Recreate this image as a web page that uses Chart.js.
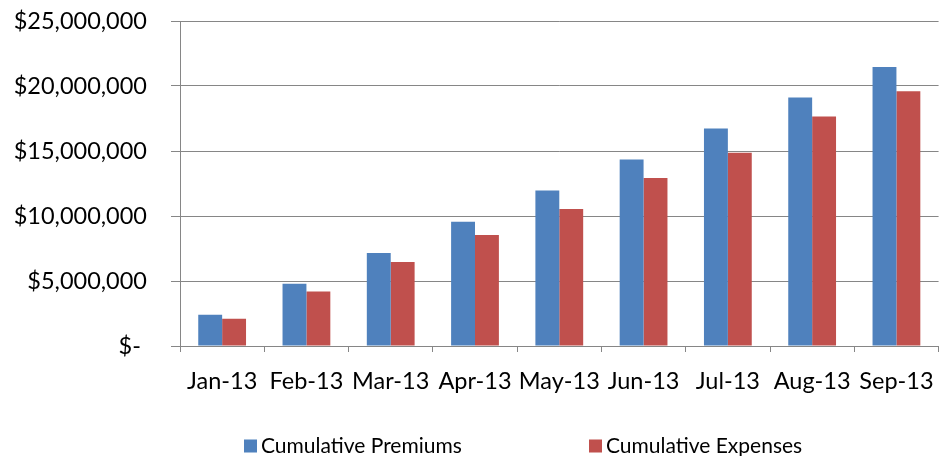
<!DOCTYPE html>
<html>
<head>
<meta charset="utf-8">
<script src="https://cdn.jsdelivr.net/npm/chart.js@4/dist/chart.umd.min.js"></script>
<style>
	html, body { margin: 0; padding: 0; background: #fff; }
	#chart { display: block; }
</style>
</head>
<body>
<canvas id="chart" width="949" height="456"></canvas>
<script>
var months = ['Jan-13', 'Feb-13', 'Mar-13', 'Apr-13', 'May-13', 'Jun-13', 'Jul-13', 'Aug-13', 'Sep-13'];
var premiums = [2400000, 4780000, 7160000, 9560000, 11970000, 14350000, 16730000, 19110000, 21470000];
var expenses = [2090000, 4190000, 6470000, 8540000, 10540000, 12920000, 14860000, 17650000, 19600000];
var seriesNames = ['Cumulative Premiums', 'Cumulative Expenses'];
var seriesColors = ['#4F81BD', '#C0504D'];

var axisGrey = '#868686';
var fontFamily = 'Lato, "Open Sans", sans-serif';

function money(value){
	if(value === 0) return '$- ';
	return '$' + value.toLocaleString('en-US');
}

// excel style legend: items sit in equal slots along the bottom
var slotLegend = {
	id: 'slotLegend',
	afterDraw: function(chart, args, opts){
		var ctx = chart.ctx;

		ctx.save();
		ctx.font = opts.fontSize + 'px ' + fontFamily;
		ctx.textBaseline = 'middle';
		ctx.textAlign = 'left';

		chart.data.datasets.forEach(function(ds, i){
			var x = opts.left + i * opts.slot;

			ctx.fillStyle = ds.backgroundColor;
			ctx.fillRect(x, opts.y - opts.box / 2, opts.box, opts.box);

			ctx.fillStyle = '#000';
			ctx.fillText(ds.label, x + opts.box + 4, opts.y);
		});

		ctx.restore();
	}
};

var chart = new Chart(document.getElementById('chart').getContext('2d'), {
	type: 'bar',
	data: {
		labels: months,
		datasets: [
			{ label: seriesNames[0], data: premiums, backgroundColor: seriesColors[0] },
			{ label: seriesNames[1], data: expenses, backgroundColor: seriesColors[1] }
		]
	},
	options: {
		responsive: false,
		animation: false,
		devicePixelRatio: 1,
		layout: { padding: { top: 21, right: 8, left: 0, bottom: 50 } },
		datasets: {
			bar: { categoryPercentage: 0.567, barPercentage: 1 }
		},
		plugins: {
			legend: { display: false },
			tooltip: { enabled: false },
			slotLegend: { left: 244, slot: 345, y: 446, box: 13, fontSize: 21 }
		},
		scales: {
			x: {
				offset: true,
				grid: {
					offset: true,
					drawOnChartArea: false,
					drawTicks: true,
					tickLength: 6,
					color: axisGrey
				},
				border: { color: axisGrey, width: 1 },
				ticks: {
					color: '#000',
					padding: 15,
					maxRotation: 0,
					autoSkip: false,
					font: { family: fontFamily, size: 23.5 }
				},
				afterFit: function(scale){ scale.height = 60; }
			},
			y: {
				min: 0,
				max: 25000000,
				grid: {
					color: axisGrey,
					tickLength: 9,
					drawTicks: true
				},
				border: { color: axisGrey, width: 1 },
				ticks: {
					stepSize: 5000000,
					color: '#000',
					padding: 24,
					font: { family: fontFamily, size: 23.5 },
					callback: money
				},
				afterFit: function(scale){
					scale.width = 180;
					// tick padding gets added on top too, top label fits in layout padding anyway
					scale.paddingTop = 0;
				}
			}
		}
	},
	plugins: [slotLegend]
});
</script>
</body>
</html>
